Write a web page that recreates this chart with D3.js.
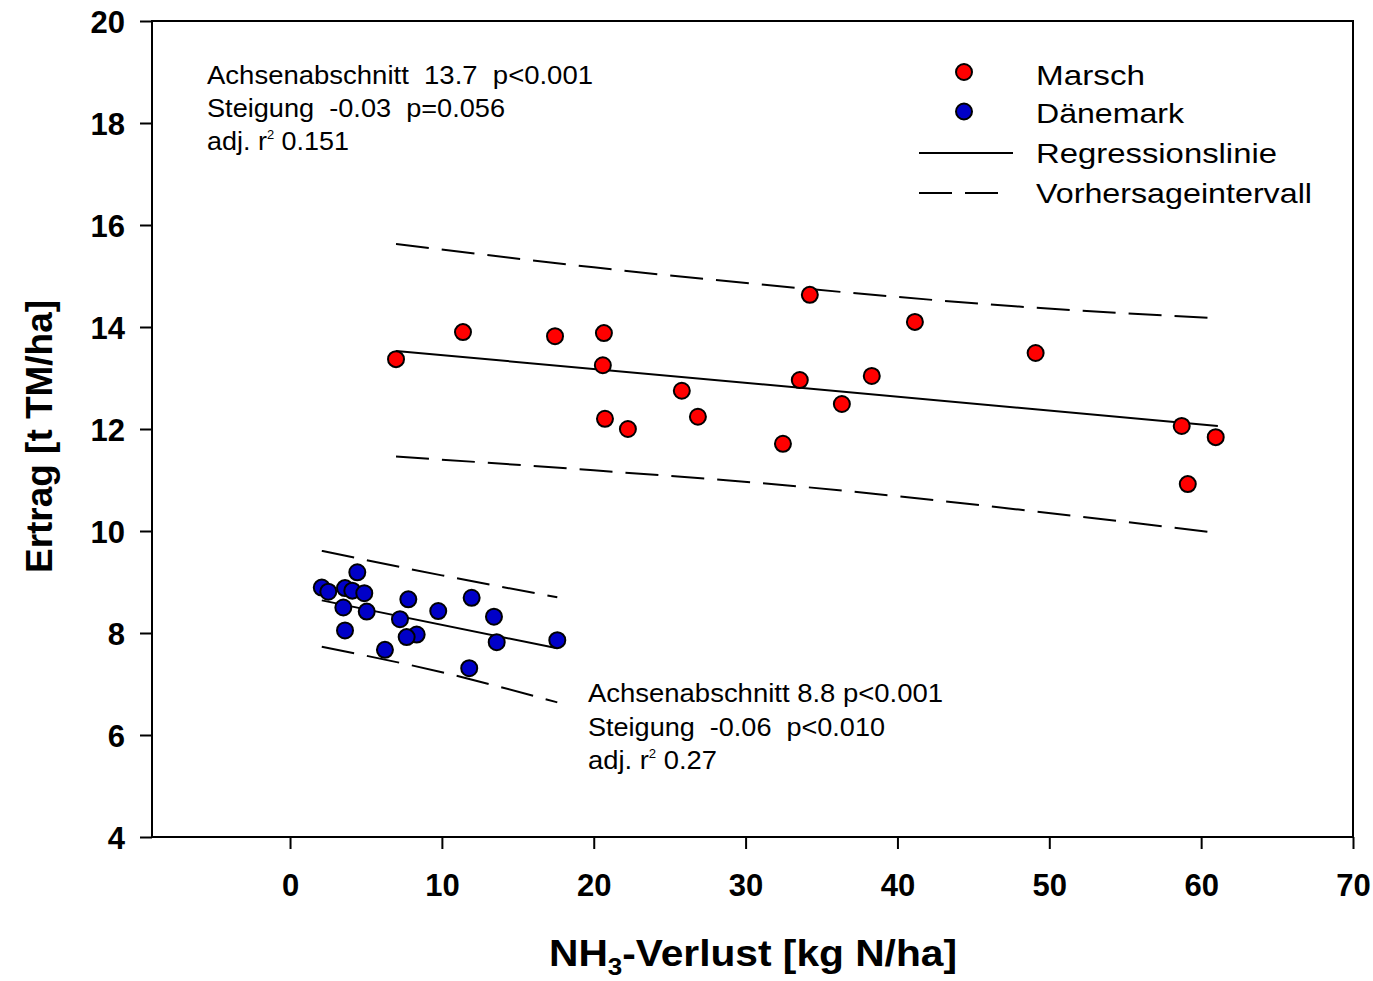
<!DOCTYPE html>
<html>
<head>
<meta charset="utf-8">
<script src="https://cdn.jsdelivr.net/npm/d3@7"></script>
<style>
  html, body { margin: 0; padding: 0; background: #fff; }
  svg { display: block; font-family: "Liberation Sans", Arial, sans-serif; }
  text { white-space: pre; }
</style>
</head>
<body>
<svg id="chart" width="1373" height="981"></svg>
<script>
// ---------- DATA ----------
const marschX = [6.98, 11.39, 17.45, 20.67, 20.6, 20.74, 22.25, 25.8, 26.86, 32.46, 33.57, 34.23, 36.34, 38.31, 41.15, 49.1, 58.72, 60.96, 59.12];
const marschY = [13.37, 13.90, 13.82, 13.88, 13.25, 12.20, 12.00, 12.75, 12.24, 11.71, 12.96, 14.63, 12.49, 13.04, 14.10, 13.49, 12.06, 11.84, 10.92];

const daenemarkX = [2.09, 2.52, 3.62, 4.10, 4.43, 4.89, 3.51, 5.05, 3.62, 7.79, 7.24, 8.34, 7.68, 6.25, 9.76, 11.96, 13.43, 13.61, 11.80, 17.60];
const daenemarkY = [8.89, 8.81, 8.88, 8.83, 9.19, 8.78, 8.50, 8.42, 8.05, 8.66, 8.27, 7.97, 7.92, 7.67, 8.43, 8.69, 8.32, 7.82, 7.31, 7.86];

// regression lines (end points) and prediction intervals
const marschFitX = [6.98, 61.1];
const marschFitY = [13.53, 12.06];
const marschBandX = [6.98, 20, 34, 48, 61.1];
const marschUpper = [15.63, 15.17, 14.75, 14.40, 14.17];
const marschLower = [11.46, 11.19, 10.86, 10.42, 9.96];

const daenemarkFitX = [2.09, 17.6];
const daenemarkFitY = [8.64, 7.70];
const daenemarkBandX = [2.09, 10, 17.6];
const daenemarkUpper = [9.61, 9.13, 8.70];
const daenemarkLower = [7.73, 7.23, 6.64];

const xTicks = [0, 10, 20, 30, 40, 50, 60, 70];
const yTicks = [4, 6, 8, 10, 12, 14, 16, 18, 20];

const legendLabels = ["Marsch", "Dänemark", "Regressionslinie", "Vorhersageintervall"];
const annotMarsch = ["Achsenabschnitt  13.7  p<0.001", "Steigung  -0.03  p=0.056", "0.151"];
const annotDaen = ["Achsenabschnitt 8.8 p<0.001", "Steigung  -0.06  p<0.010", "0.27"];

// ---------- STYLE ----------
const RED = "#ff0000", BLUE = "#0000c8";
const DASH = "33,13";

const svg = d3.select("#chart");
const x = d3.scaleLinear().domain([-9.09, 70]).range([152, 1353]);
const y = d3.scaleLinear().domain([4, 20]).range([837, 21]);

// axes
const gx = svg.append("g").attr("transform", "translate(0,837)")
  .call(d3.axisBottom(x).tickValues(xTicks).tickSize(12).tickPadding(25).tickFormat(d3.format("d")));
const gy = svg.append("g").attr("transform", "translate(152,0)")
  .call(d3.axisLeft(y).tickValues(yTicks).tickSize(12).tickPadding(15).tickFormat(d3.format("d")));
[gx, gy].forEach(g => {
  g.select(".domain").remove();
  g.selectAll(".tick line").attr("stroke", "#000").attr("stroke-width", 2);
  g.selectAll(".tick text").attr("fill", "#000").style("font-size", "31px").style("font-weight", "bold")
    .style("font-family", "'Liberation Sans', Arial, sans-serif");
});
gy.selectAll(".tick text").attr("dy", "0.36em");

// frame
svg.append("rect").attr("x", x.range()[0]).attr("y", y.range()[1])
  .attr("width", x.range()[1] - x.range()[0]).attr("height", y.range()[0] - y.range()[1])
  .attr("fill", "none").attr("stroke", "#000").attr("stroke-width", 2);

// lines
const lineGen = d3.line().x(d => x(d[0])).y(d => y(d[1])).curve(d3.curveMonotoneX);
function drawLine(xs, ys, dashed) {
  svg.append("path").datum(xs.map((v, i) => [v, ys[i]]))
    .attr("d", lineGen).attr("fill", "none").attr("stroke", "#000")
    .attr("stroke-width", 2).attr("stroke-dasharray", dashed ? DASH : null);
}
drawLine(marschFitX, marschFitY, false);
drawLine(marschBandX, marschUpper, true);
drawLine(marschBandX, marschLower, true);
drawLine(daenemarkFitX, daenemarkFitY, false);
drawLine(daenemarkBandX, daenemarkUpper, true);
drawLine(daenemarkBandX, daenemarkLower, true);

// points
function drawPoints(xs, ys, color) {
  svg.append("g").selectAll("circle").data(xs.map((v, i) => [v, ys[i]])).join("circle")
    .attr("cx", d => x(d[0])).attr("cy", d => y(d[1])).attr("r", 8)
    .attr("fill", color).attr("stroke", "#000").attr("stroke-width", 2);
}
drawPoints(marschX, marschY, RED);
drawPoints(daenemarkX, daenemarkY, BLUE);

// annotations
function annot(lines, ax, baselines, widths) {
  lines.forEach((t, i) => {
    const tx = svg.append("text").attr("x", ax).attr("y", baselines[i])
      .attr("xml:space", "preserve")
      .style("font-size", "25px").attr("fill", "#000");
    if (i < 2) {
      tx.text(t);
    } else {
      tx.append("tspan").text("adj. r");
      tx.append("tspan").attr("dy", -11).style("font-size", "12px").text("2");
      tx.append("tspan").attr("dy", 11).text(" " + t);
    }
    tx.attr("textLength", widths[i]).attr("lengthAdjust", "spacingAndGlyphs");
  });
}
annot(annotMarsch, 207, [84, 117, 150], [386, 298, 142]);
annot(annotDaen, 588, [702, 736, 769], [355, 297, 129]);

// legend
const legY = [85, 123, 163, 203];
const legW = [109, 148, 241, 276];
legendLabels.forEach((t, i) => {
  svg.append("text").attr("x", 1036).attr("y", legY[i]).style("font-size", "28px")
    .attr("textLength", legW[i]).attr("lengthAdjust", "spacingAndGlyphs").text(t);
});
svg.append("circle").attr("cx", 964).attr("cy", 72).attr("r", 8).attr("fill", RED).attr("stroke", "#000").attr("stroke-width", 2);
svg.append("circle").attr("cx", 964).attr("cy", 111.5).attr("r", 8).attr("fill", BLUE).attr("stroke", "#000").attr("stroke-width", 2);
svg.append("line").attr("x1", 919).attr("x2", 1013).attr("y1", 153).attr("y2", 153).attr("stroke", "#000").attr("stroke-width", 2);
svg.append("line").attr("x1", 919).attr("x2", 999).attr("y1", 193).attr("y2", 193).attr("stroke", "#000").attr("stroke-width", 2).attr("stroke-dasharray", DASH);

// axis titles
const xt = svg.append("text").attr("x", 549).attr("y", 966).style("font-size", "36px").style("font-weight", "bold")
  .attr("textLength", 408).attr("lengthAdjust", "spacingAndGlyphs");
xt.append("tspan").text("NH");
xt.append("tspan").attr("dy", 9).style("font-size", "23px").text("3");
xt.append("tspan").attr("dy", -9).text("-Verlust [kg N/ha]");

svg.append("text").attr("transform", "translate(51.5,436.5) rotate(-90)").attr("text-anchor", "middle")
  .style("font-size", "37px").style("font-weight", "bold")
  .attr("textLength", 273).attr("lengthAdjust", "spacingAndGlyphs")
  .text("Ertrag [t TM/ha]");
</script>
</body>
</html>
